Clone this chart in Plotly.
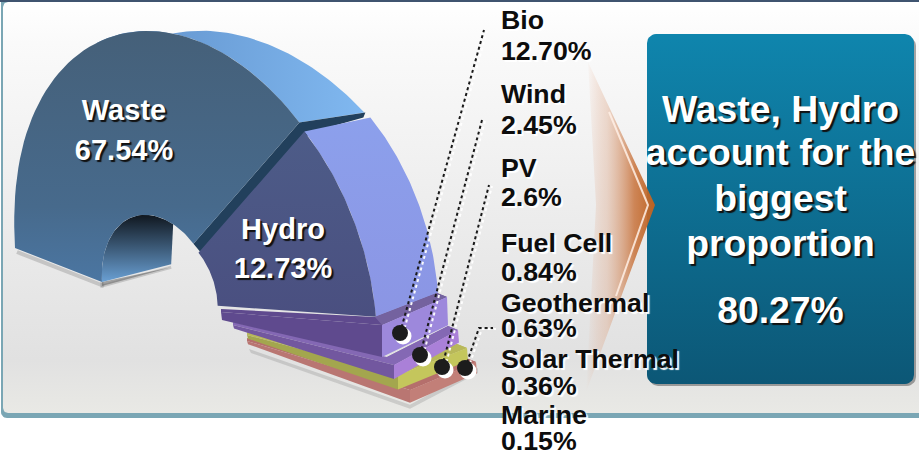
import numpy as np
import plotly.graph_objects as go

# ---- data ----
names = ["Waste", "Hydro", "Bio", "Wind", "PV", "Fuel Cell", "Geothermal", "Solar Thermal", "Marine"]
values = [67.54, 12.73, 12.70, 2.45, 2.6, 0.84, 0.63, 0.36, 0.15]
value_labels = ["67.54%", "12.73%", "12.70%", "2.45%", "2.6%", "0.84%", "0.63%", "0.36%", "0.15%"]
callout_lines = ["Waste, Hydro", "account for the", "biggest", "proportion"]
callout_value = "80.27%"

W, H = 919, 451
FONT = "Liberation Sans"
fig = go.Figure()


def poly(pts, color=None, grad=None, line=None, lw=0):
    pts = np.asarray(pts, float)
    kw = dict(x=pts[:, 0], y=pts[:, 1], mode="lines", fill="toself", hoverinfo="skip",
              line=dict(width=lw, color=line or "rgba(0,0,0,0)"))
    if grad:
        kw["fillgradient"] = dict(type=grad[0], colorscale=grad[1])
        kw["fillcolor"] = "rgba(0,0,0,0)"
    else:
        kw["fillcolor"] = color
    fig.add_trace(go.Scatter(**kw))


def rrect(x0, y0, x1, y1, r):
    t = np.linspace(0, np.pi / 2, 8)
    c = np.cos(t) * r
    s = np.sin(t) * r
    return np.vstack([
        np.c_[x1 - r + s, y0 + r - c],
        np.c_[x1 - r + c, y1 - r + s],
        np.c_[x0 + r - s, y1 - r + c],
        np.c_[x0 + r - c, y0 + r - s],
    ])


def vert(top, bottom):
    # the y axis runs downward, so the gradient's 0 end is the bottom of the shape
    return ("vertical", [[0, bottom], [1, top]])


def horiz(a, b):
    return ("horizontal", [[0, a], [1, b]])


# ---- panel ----
poly(rrect(1, -6, W + 8, 418, 6), color="#7aa6b4")
poly(rrect(3, 2, W + 8, 413, 5),
     grad=("vertical", [[0, "#e9e9e5"], [0.13, "#e1e1e1"], [0.9, "#fafafa"], [1, "#ffffff"]]))
poly([[0, 0], [W, 0], [W, 2], [0, 2]], color="#3f5470")

# ---- half ring: the arc angles come from the two largest values ----
P = 0.61
SPAN = 177.0
w0, w1 = values[0] ** P, values[1] ** P
a_start = 180.0
a_split = a_start - SPAN * w0 / (w0 + w1)
a_end = a_start - SPAN


def outer(t):
    t = np.asarray(t, float)
    r = np.radians(t)
    settle = 8 * np.clip((t - 150) / 30, 0, 1) ** 2
    return np.c_[196 + 181 * np.cos(r) - 17 * np.sin(r), 285 + 45 * np.cos(r) - 250 * np.sin(r) + settle]


def inner(t):
    r = np.radians(np.asarray(t, float))
    return np.c_[160 + 58 * np.cos(r) - 5 * np.sin(r), 296 + 14 * np.cos(r) - 80 * np.sin(r)]


def arc(a, b, n=60):
    return np.linspace(a, b, n)


# foot shadow
tw = arc(a_start, a_split)
foot = np.vstack([outer([a_start]), inner([a_start])])
poly(foot + [[2, 4]], line="rgba(90,90,90,0.25)", lw=4)

# tunnel
ti = arc(a_start, 72)
tin = inner(ti)
tunnel_low = tin[-1] + [-2, 40]
poly(np.vstack([tunnel_low + [0, 3], tin[0] + [0, 4], tin[0]]), line="rgba(90,90,90,0.25)", lw=3)
poly(np.vstack([tin, [tunnel_low], [tin[0]]]),
     grad=vert("#10171f", "#6aa0d4"))

# Waste top cap
tc = arc(118, a_split)
fc = outer(tc)
bc = fc + np.c_[65 - 0.4 * (tc - a_split), -10 + 0.2 * (tc - a_split)]
poly(np.vstack([bc, fc[::-1]]), grad=horiz("#5f8fc8", "#80b8f0"))

# Waste end wall
end_o = outer([a_split])[0]
end_i = inner([a_split])[0]
poly([end_o, end_o + [66, -10], end_o + [64, -5], end_o + [11, 10], end_i + [10, 12], end_i],
     color="#22405c")

# Waste front face
poly(np.vstack([outer(tw), inner(tw[::-1])]),
     grad=("vertical", [[0, "#4b76a2"], [0.3, "#476a8c"], [1, "#456079"]]))

# Hydro
th = arc(a_split, a_end)
frac = (th - a_end) / (a_split - a_end)
shift = np.c_[5 * frac, 9 * frac]
ho = outer(th) + shift
hi = inner(th) + shift
hb = ho + np.c_[62 + 4 * frac, -24 + 10 * frac]
poly(np.vstack([hb, ho[::-1]]), grad=vert("#8ca0ec", "#8b95e4"))
poly(np.vstack([ho, hi[::-1]]), grad=vert("#4d5c88", "#4a4f80"))

# ---- stacked slabs: thickness follows the remaining values ----
slab_vals = [values[2], values[3], values[4], sum(values[5:])]
slab_left = [(221, 312), (233, 325), (247, 335), (247, 341)]
slab_apex = [(382, 325), (394, 365), (398, 375), (410, 390)]
slab_right = [(447, 297), (458, 330), (467, 348), (476, 362)]
slab_cols = [("#5f4a8e", "#9d88dc", "#74629f"),
             ("#72579f", "#aa80d8", "#8468b4"),
             ("#a3a64e", "#c4c65c", "#b8b85a"),
             ("#b97672", "#c27f78", "#b56f6c")]
for k in range(3, -1, -1):
    th_k = 9 * np.sqrt(slab_vals[k])
    L = np.array(slab_left[k], float)
    A = np.array(slab_apex[k], float)
    R = np.array(slab_right[k], float)
    front, side, top = slab_cols[k]
    if k == 3:
        poly([L + [2, 8], A + [0, th_k + 2], R + [2, 6], R + [2, 11], A + [0, th_k + 6], L + [4, 12]],
             color="rgba(120,120,120,0.25)")
    poly([R, R + [-10, -4], A + [-7, -8], L + [0, -3], L, A], color=top if k else front)
    poly([R, R + [-10, -4], A + [-7, -8], A], color=top)
    poly([L, A, A + [0, th_k], L + [1, 0.25 * th_k]], color=front)
    poly([A, R, R + [1, 0.88 * th_k], A + [0, th_k]], color=side)

# ---- callout box ----
poly(rrect(649, 37, 916, 386, 9), color="rgba(60,60,60,0.45)")
poly(rrect(647, 34, 914, 384, 9), grad=vert("#0f85ad", "#0c5776"))

# ---- arrow ----
poly([[588, 62], [655, 205], [586, 392], [596, 205]],
     grad=("horizontal", [[0, "rgba(225,150,110,0)"], [0.3, "rgba(222,170,140,0.4)"],
                          [0.7, "rgba(200,115,60,0.85)"], [1, "#bd6221"]]))
fig.add_trace(go.Scatter(x=[609, 648, 616], y=[112, 205, 296], mode="lines", hoverinfo="skip",
                         line=dict(color="rgba(255,240,230,0.85)", width=2)))

# ---- leaders ----
leader_x = [[400, 484], [420, 482], [442, 489], [465, 479, 493]]
leader_y = [[333, 30], [355, 120], [367, 185], [368, 328, 328]]
for lx, ly in zip(leader_x, leader_y):
    fig.add_trace(go.Scatter(x=np.array(lx) + 3, y=np.array(ly) + 1, mode="lines", hoverinfo="skip",
                             line=dict(color="rgba(255,255,255,0.95)", width=2, dash="dot")))
    fig.add_trace(go.Scatter(x=lx, y=ly, mode="lines", hoverinfo="skip",
                             line=dict(color="#1a1a1a", width=2, dash="dot")))
dot_x = [l[0] for l in leader_x]
dot_y = [l[0] for l in leader_y]
fig.add_trace(go.Scatter(x=np.array(dot_x) + 3, y=np.array(dot_y) + 3, mode="markers", hoverinfo="skip",
                         marker=dict(size=17, color="white")))
fig.add_trace(go.Scatter(x=dot_x, y=dot_y, mode="markers", hoverinfo="skip",
                         marker=dict(size=16, color="#1c1c1c")))


# ---- text ----
def text(xs, ys, ts, size, color, shadow, pos="middle center"):
    fig.add_trace(go.Scatter(x=xs, y=ys, text=ts, mode="text", textposition=pos, hoverinfo="skip",
                             textfont=dict(family=FONT, size=size, color=color, weight="bold", shadow=shadow)))


DARK = "2px 2px 1px #111"
LIGHT = "2px 2px 1px #fff"
text([124, 124], [113, 153], [names[0], value_labels[0]], 29, "white", DARK)
text([283, 283], [232, 271], [names[1], value_labels[1]], 29, "white", DARK)

label_name_y = [22, 96, 170, 245, 305, 361, 417]
label_val_y = [53, 127, 199, 274, 330, 388, 443]
text([501] * 7, label_name_y, names[2:], 26.7, "#0d0d0d", LIGHT, "middle right")
text([501] * 7, label_val_y, value_labels[2:], 26.7, "#0d0d0d", LIGHT, "middle right")

callout_y = [113, 156, 202, 247]
text([780.5] * 4, callout_y, callout_lines, 37.3, "white", DARK)
text([780.5], [314], [callout_value], 37.3, "white", DARK)

fig.update_layout(
    width=W, height=H, margin=dict(l=0, r=0, t=0, b=0), showlegend=False,
    paper_bgcolor="white", plot_bgcolor="white", autosize=False,
    xaxis=dict(range=[0, W], visible=False, fixedrange=True),
    yaxis=dict(range=[H, 0], visible=False, fixedrange=True),
)
fig.write_html("out.html", config={"displayModeBar": False},
               post_script="document.body.style.margin='0';document.body.style.overflow='hidden';")
